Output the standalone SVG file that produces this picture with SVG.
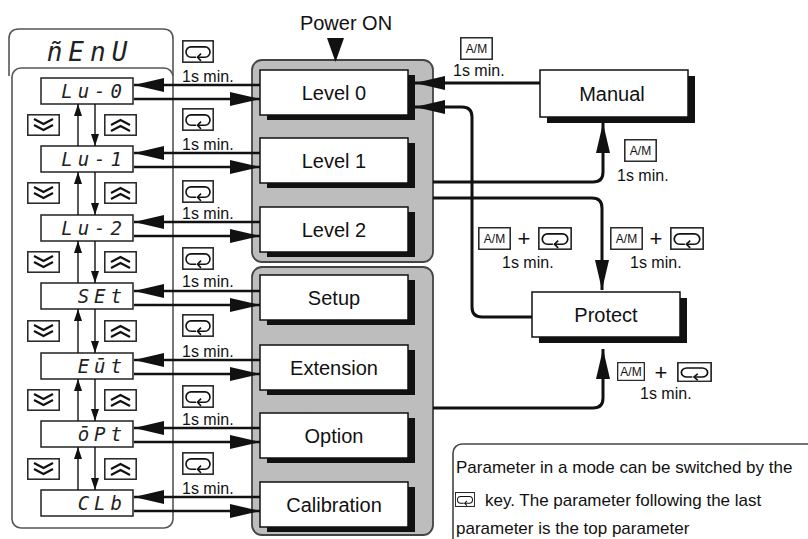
<svg xmlns="http://www.w3.org/2000/svg" xmlns:xlink="http://www.w3.org/1999/xlink" width="808" height="539" viewBox="0 0 808 539">
<style>
.t{font-family:"Liberation Sans",Arial,sans-serif;fill:#111}
.lab{font-size:20px;text-anchor:middle}
.sm{font-size:16px}
.am{font-size:12px;text-anchor:middle}
.seg{font-family:"DejaVu Sans Mono","Liberation Mono",monospace;font-style:italic;font-size:19px;fill:#222;letter-spacing:5px;text-anchor:end}
.box{fill:#fff;stroke:#111;stroke-width:1.5}
.shd{fill:#111}
.disp{fill:#fff;stroke:#222;stroke-width:1.5}
.grp{fill:#bdbdbd;stroke:#444;stroke-width:1.8}
.frame{fill:none;stroke:#555;stroke-width:1.6}
.c{fill:none;stroke:#111;stroke-width:3}
.cl{fill:none;stroke:#111;stroke-width:2.6}
.v{fill:none;stroke:#111;stroke-width:1.4}
.key{fill:#fff;stroke:#222;stroke-width:1.4}
</style>
<defs>
<marker id="ah" markerUnits="userSpaceOnUse" markerWidth="30" markerHeight="14" refX="30" refY="7" orient="auto" viewBox="0 0 30 14">
<path d="M0,0 L30,7 L0,14 z" fill="#111"/>
</marker>
<marker id="sh" markerUnits="userSpaceOnUse" markerWidth="12" markerHeight="8" refX="12" refY="4" orient="auto" viewBox="0 0 12 8">
<path d="M0,0 L12,4 L0,8 z" fill="#111"/>
</marker>
<symbol id="mode" viewBox="0 0 32 22" preserveAspectRatio="none">
<rect x="0.8" y="0.8" width="30.4" height="20.4" fill="#fff" stroke="#222" stroke-width="1.5"/>
<path d="M14,16.5 H9 A5,5 0 0 1 9,6.5 H23 A5,5 0 0 1 23,16.5 H15.5" fill="none" stroke="#111" stroke-width="1.6"/>
<path d="M19,13 L15.5,16.5 L19,20" fill="none" stroke="#111" stroke-width="1.6"/>
</symbol>
<symbol id="dn" viewBox="0 0 33 22" preserveAspectRatio="none">
<rect x="0.8" y="0.8" width="31.4" height="20.4" fill="#fff" stroke="#222" stroke-width="1.5"/>
<path d="M7,5 L16.5,10 L26,5 M7,11 L16.5,16 L26,11" fill="none" stroke="#111" stroke-width="2.2"/>
</symbol>
<symbol id="up" viewBox="0 0 33 22" preserveAspectRatio="none">
<rect x="0.8" y="0.8" width="31.4" height="20.4" fill="#fff" stroke="#222" stroke-width="1.5"/>
<path d="M7,11 L16.5,6 L26,11 M7,17 L16.5,12 L26,17" fill="none" stroke="#111" stroke-width="2.2"/>
</symbol>
<symbol id="amk" viewBox="0 0 33 24" preserveAspectRatio="none">
<rect x="0.8" y="0.8" width="31.4" height="22.4" fill="#fff" stroke="#222" stroke-width="1.5"/>
</symbol>
</defs>
<rect width="808" height="539" fill="#fff"/>

<!-- menu frame -->
<g id="menu">
<path class="frame" d="M9,76 V39 Q9,29 19,29 H163 Q173,29 173,39 V76"/>
<rect class="frame" x="12" y="68" width="161" height="460" rx="9"/>
<text x="90" y="61" style="font-family:'DejaVu Sans Mono','Liberation Mono',monospace;font-style:italic;font-size:26px;fill:#222;letter-spacing:6px;text-anchor:middle">ñEnU</text>
</g>

<!-- groups -->
<g id="group-levels"><rect class="grp" x="252" y="60" width="181" height="202" rx="10"/></g>
<g id="group-setup"><rect class="grp" x="252" y="267" width="181" height="268" rx="10"/></g>

<!-- displays -->
<g id="disp-lu0"><rect class="disp" x="41" y="78" width="92" height="26"/><text class="seg" x="127" y="98">Lu-0</text></g>
<g id="disp-lu1"><rect class="disp" x="41" y="146" width="92" height="26"/><text class="seg" x="127" y="166">Lu-1</text></g>
<g id="disp-lu2"><rect class="disp" x="41" y="215" width="92" height="26"/><text class="seg" x="127" y="235">Lu-2</text></g>
<g id="disp-set"><rect class="disp" x="41" y="283" width="92" height="26"/><text class="seg" x="127" y="303">SEt</text></g>
<g id="disp-ext"><rect class="disp" x="41" y="353" width="92" height="26"/><text class="seg" x="127" y="373">Eūt</text></g>
<g id="disp-opt"><rect class="disp" x="41" y="421" width="92" height="26"/><text class="seg" x="127" y="441">ōPt</text></g>
<g id="disp-clb"><rect class="disp" x="41" y="490" width="92" height="26"/><text class="seg" x="127" y="510">CLb</text></g>

<!-- chevron keys -->
<g id="chevrons">
<use xlink:href="#dn" href="#dn" x="27" y="114" width="33" height="22"/><use xlink:href="#up" href="#up" x="104" y="114" width="33" height="22"/>
<use xlink:href="#dn" href="#dn" x="27" y="182" width="33" height="22"/><use xlink:href="#up" href="#up" x="104" y="182" width="33" height="22"/>
<use xlink:href="#dn" href="#dn" x="27" y="251" width="33" height="22"/><use xlink:href="#up" href="#up" x="104" y="251" width="33" height="22"/>
<use xlink:href="#dn" href="#dn" x="27" y="320" width="33" height="22"/><use xlink:href="#up" href="#up" x="104" y="320" width="33" height="22"/>
<use xlink:href="#dn" href="#dn" x="27" y="389" width="33" height="22"/><use xlink:href="#up" href="#up" x="104" y="389" width="33" height="22"/>
<use xlink:href="#dn" href="#dn" x="27" y="458" width="33" height="22"/><use xlink:href="#up" href="#up" x="104" y="458" width="33" height="22"/>
</g>

<!-- mode keys left -->
<g id="modekeys">
<use xlink:href="#mode" href="#mode" x="182" y="40" width="32" height="23"/><text class="t sm" x="182" y="82">1s min.</text>
<use xlink:href="#mode" href="#mode" x="182" y="108" width="32" height="23"/><text class="t sm" x="182" y="150">1s min.</text>
<use xlink:href="#mode" href="#mode" x="182" y="180" width="32" height="23"/><text class="t sm" x="182" y="219">1s min.</text>
<use xlink:href="#mode" href="#mode" x="182" y="247" width="32" height="23"/><text class="t sm" x="182" y="287">1s min.</text>
<use xlink:href="#mode" href="#mode" x="182" y="314" width="32" height="23"/><text class="t sm" x="182" y="357">1s min.</text>
<use xlink:href="#mode" href="#mode" x="182" y="385" width="32" height="23"/><text class="t sm" x="182" y="425">1s min.</text>
<use xlink:href="#mode" href="#mode" x="182" y="452" width="32" height="23"/><text class="t sm" x="182" y="494">1s min.</text>
</g>

<!-- mode boxes -->
<g id="level0"><rect class="shd" x="267" y="75" width="148" height="45"/><rect class="box" x="260" y="70" width="148" height="45"/><text class="t lab" x="334" y="100">Level 0</text></g>
<g id="level1"><rect class="shd" x="267" y="143" width="148" height="45"/><rect class="box" x="260" y="138" width="148" height="45"/><text class="t lab" x="334" y="168">Level 1</text></g>
<g id="level2"><rect class="shd" x="267" y="212" width="148" height="45"/><rect class="box" x="260" y="207" width="148" height="45"/><text class="t lab" x="334" y="237">Level 2</text></g>
<g id="setup"><rect class="shd" x="267" y="280" width="148" height="45"/><rect class="box" x="260" y="275" width="148" height="45"/><text class="t lab" x="334" y="305">Setup</text></g>
<g id="extension"><rect class="shd" x="267" y="350" width="148" height="45"/><rect class="box" x="260" y="345" width="148" height="45"/><text class="t lab" x="334" y="375">Extension</text></g>
<g id="option"><rect class="shd" x="267" y="418" width="148" height="45"/><rect class="box" x="260" y="413" width="148" height="45"/><text class="t lab" x="334" y="443">Option</text></g>
<g id="calibration"><rect class="shd" x="267" y="487" width="148" height="45"/><rect class="box" x="260" y="482" width="148" height="45"/><text class="t lab" x="334" y="512">Calibration</text></g>
<g id="manual"><rect class="shd" x="547" y="76" width="148" height="47"/><rect class="box" x="540" y="70" width="148" height="47"/><text class="t lab" x="612" y="101">Manual</text></g>
<g id="protect"><rect class="shd" x="539" y="298" width="148" height="45"/><rect class="box" x="532" y="292" width="148" height="45"/><text class="t lab" x="606" y="322">Protect</text></g>

<g id="power-on">
<text class="t lab" x="346" y="30">Power ON</text>
<polygon points="327,38 344,38 335.5,62" fill="#111"/>
</g>

<!-- connectors -->
<g id="connectors">
<path class="cl" d="M260,85 H134" marker-end="url(#ah)"/><path class="cl" d="M134,99 H260" marker-end="url(#ah)"/>
<path class="cl" d="M260,153 H134" marker-end="url(#ah)"/><path class="cl" d="M134,167 H260" marker-end="url(#ah)"/>
<path class="cl" d="M260,222 H134" marker-end="url(#ah)"/><path class="cl" d="M134,236 H260" marker-end="url(#ah)"/>
<path class="cl" d="M260,291 H134" marker-end="url(#ah)"/><path class="cl" d="M134,305 H260" marker-end="url(#ah)"/>
<path class="cl" d="M260,360 H134" marker-end="url(#ah)"/><path class="cl" d="M134,374 H260" marker-end="url(#ah)"/>
<path class="cl" d="M260,428 H134" marker-end="url(#ah)"/><path class="cl" d="M134,442 H260" marker-end="url(#ah)"/>
<path class="cl" d="M260,497 H134" marker-end="url(#ah)"/><path class="cl" d="M134,511 H260" marker-end="url(#ah)"/>

<path class="v" d="M78,146 V104" marker-end="url(#sh)"/><path class="v" d="M95,104 V146" marker-end="url(#sh)"/>
<path class="v" d="M78,215 V172" marker-end="url(#sh)"/><path class="v" d="M95,172 V215" marker-end="url(#sh)"/>
<path class="v" d="M78,283 V241" marker-end="url(#sh)"/><path class="v" d="M95,241 V283" marker-end="url(#sh)"/>
<path class="v" d="M78,353 V309" marker-end="url(#sh)"/><path class="v" d="M95,309 V353" marker-end="url(#sh)"/>
<path class="v" d="M78,421 V379" marker-end="url(#sh)"/><path class="v" d="M95,379 V421" marker-end="url(#sh)"/>
<path class="v" d="M78,490 V447" marker-end="url(#sh)"/><path class="v" d="M95,447 V490" marker-end="url(#sh)"/>

<path class="c" d="M540,83 H415" marker-end="url(#ah)"/>
<path class="c" d="M532,317 H482 Q472,317 472,307 V117 Q472,107 462,107 H415" marker-end="url(#ah)"/>
<path class="c" d="M433,182 H593 Q603,182 603,172 V123" marker-end="url(#ah)"/>
<path class="c" d="M433,198 H592 Q602,198 602,208 V290" marker-end="url(#ah)"/>
<path class="c" d="M433,408 H593 Q603,408 603,398 V349" marker-end="url(#ah)"/>
</g>

<!-- key labels right -->
<g id="label-manual-level0">
<use xlink:href="#amk" href="#amk" x="460" y="37" width="33" height="23"/><text class="t am" x="476.5" y="53">A/M</text>
<text class="t sm" x="453" y="76">1s min.</text>
</g>
<g id="label-level-manual">
<use xlink:href="#amk" href="#amk" x="624" y="139" width="33" height="23"/><text class="t am" x="640.5" y="155">A/M</text>
<text class="t sm" x="617" y="181">1s min.</text>
</g>
<g id="label-protect-level0">
<use xlink:href="#amk" href="#amk" x="478" y="227" width="33" height="23"/><text class="t am" x="494.5" y="243">A/M</text>
<text class="t" x="524" y="246" style="font-size:22px;text-anchor:middle;font-weight:300">+</text>
<use xlink:href="#mode" href="#mode" x="538" y="227" width="34" height="23"/>
<text class="t sm" x="502" y="268">1s min.</text>
</g>
<g id="label-level-protect">
<use xlink:href="#amk" href="#amk" x="610" y="227" width="33" height="23"/><text class="t am" x="626.5" y="243">A/M</text>
<text class="t" x="656" y="246" style="font-size:22px;text-anchor:middle;font-weight:300">+</text>
<use xlink:href="#mode" href="#mode" x="670" y="227" width="34" height="23"/>
<text class="t sm" x="630" y="268">1s min.</text>
</g>
<g id="label-setup-protect">
<use xlink:href="#amk" href="#amk" x="617" y="362" width="28" height="19"/><text class="t am" x="631" y="376">A/M</text>
<text class="t" x="661" y="380" style="font-size:22px;text-anchor:middle;font-weight:300">+</text>
<use xlink:href="#mode" href="#mode" x="677" y="362" width="35" height="20"/>
<text class="t sm" x="640" y="399">1s min.</text>
</g>

<!-- note -->
<g id="note">
<rect x="453" y="444" width="380" height="120" rx="9" fill="none" stroke="#444" stroke-width="1.6"/>
<text class="t" x="456" y="473" style="font-size:17px">Parameter in a mode can be switched by the</text>
<use xlink:href="#mode" href="#mode" x="455" y="492" width="20" height="15"/>
<text class="t" x="485" y="506" style="font-size:17px">key. The parameter following the last</text>
<text class="t" x="456" y="534" style="font-size:17px">parameter is the top parameter</text>
</g>
</svg>
